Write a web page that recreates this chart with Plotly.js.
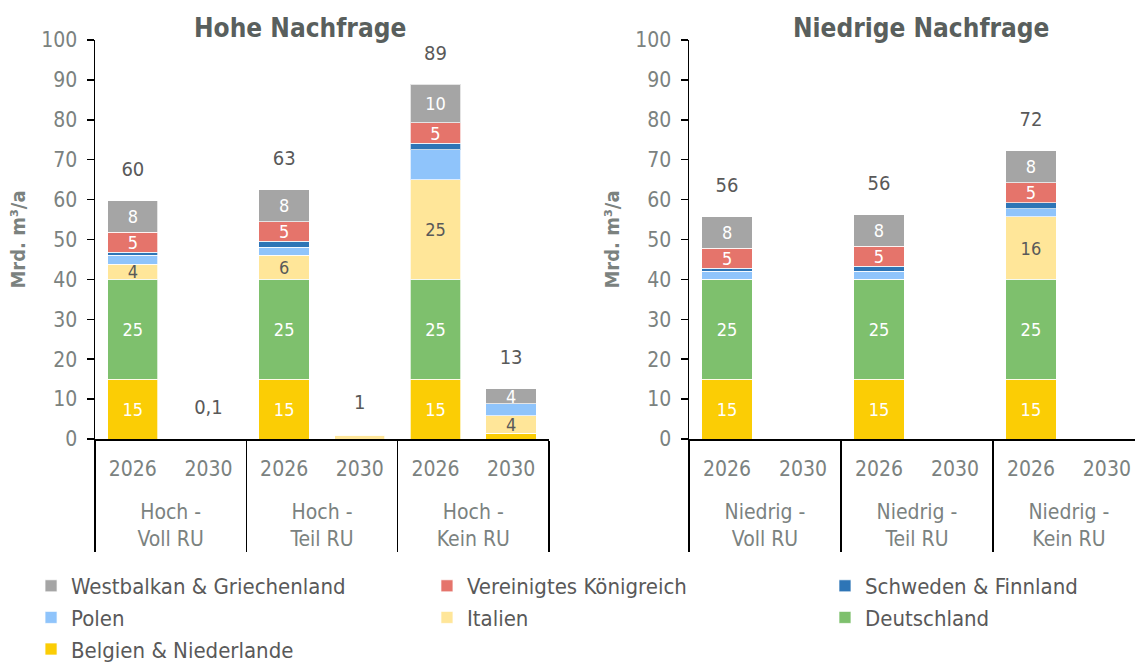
<!DOCTYPE html>
<html>
<head>
<meta charset="utf-8">
<script src="https://cdn.plot.ly/plotly-3.0.1.min.js"></script>
<style>html,body{margin:0;padding:0;background:#fff;}#chart{width:1135px;height:666px;}</style>
</head>
<body>
<div id="chart"></div>
<script>
// ---- Data ----
const groupsLeft = ["<br>Hoch -<br>Voll RU","<br>Hoch -<br>Voll RU","<br>Hoch -<br>Teil RU","<br>Hoch -<br>Teil RU","<br>Hoch -<br>Kein RU","<br>Hoch -<br>Kein RU"];
const groupsRight = ["<br>Niedrig -<br>Voll RU","<br>Niedrig -<br>Voll RU","<br>Niedrig -<br>Teil RU","<br>Niedrig -<br>Teil RU","<br>Niedrig -<br>Kein RU","<br>Niedrig -<br>Kein RU"];
const years = ["2026","2030","2026","2030","2026","2030"];

const seriesNames = ["Belgien & Niederlande","Deutschland","Italien","Polen","Schweden & Finnland","Vereinigtes Königreich","Westbalkan & Griechenland"];
const seriesColors = ["#fbcd05","#7ec06d","#ffe699","#8fc4fb","#2e75b6","#e5746b","#a5a5a5"];

// Left: Hohe Nachfrage
const belgienL    = [15, 0,    15,  0,   15,  1.4];
const deutschL    = [25, 0,    25,  0,   25,  0];
const italienL    = [3.8, 0.05, 6,  0.9, 25,  4.4];
const polenL      = [2.2, 0.05, 2,  0.3, 7.5, 3];
const schwedenL   = [0.8, 0,   1.5, 0,   1.6, 0];
const ukL         = [5,  0,    4.9, 0,   5.1, 0];
const westbalkanL = [7.95, 0,  8.1, 0,   9.7, 3.8];

// Right: Niedrige Nachfrage
const belgienR    = [15, 0, 15, 0, 15, 0];
const deutschR    = [25, 0, 25, 0, 25, 0];
const italienR    = [0,  0, 0,  0, 15.7, 0];
const polenR      = [2.1, 0, 2.1, 0, 2, 0];
const schwedenR   = [0.7, 0, 1.25, 0, 1.55, 0];
const ukR         = [5,  0, 5,  0, 5, 0];
const westbalkanR = [7.9, 0, 7.9, 0, 8, 0];

const seriesLeft  = [belgienL, deutschL, italienL, polenL, schwedenL, ukL, westbalkanL];
const seriesRight = [belgienR, deutschR, italienR, polenR, schwedenR, ukR, westbalkanR];
const labeled     = [true, true, true, false, false, true, true];
const labelColors = ["#ffffff","#ffffff","#595959","#ffffff","#ffffff","#ffffff","#ffffff"];
// legend column + rank
const legendOf   = ["legend","legend3","legend2","legend","legend3","legend2","legend"];
const legendRank = [3, 2, 2, 2, 1, 1, 1];

const FONT = "DejaVu Sans Condensed, DejaVu Sans, sans-serif";

function segLabels(arr, on){ return arr.map(v => (on && v >= 3.5) ? String(Math.round(v)) : ""); }
function totals(list){ return list[0].map((_, i) => list.reduce((s, a) => s + a[i], 0)); }
function totalText(t){ if (t <= 0) return ""; if (t < 0.5) return t.toFixed(1).replace(".", ","); return String(Math.round(t)); }

const traces = [];
seriesNames.forEach((name, k) => {
  [[seriesLeft, groupsLeft, "x", "y", true], [seriesRight, groupsRight, "x2", "y2", false]].forEach(([ser, grp, xa, ya, sl]) => {
    traces.push({
      type: "bar", name: name, x: [grp, years], y: ser[k],
      xaxis: xa, yaxis: ya,
      marker: {color: seriesColors[k], line: {color: "rgba(255,255,255,0.7)", width: 1}},
      text: segLabels(ser[k], labeled[k]), textposition: "inside", insidetextanchor: "middle",
      textangle: 0, constraintext: "none",
      insidetextfont: {family: FONT, size: 18, color: labelColors[k]},
      legend: legendOf[k], legendrank: legendRank[k], legendgroup: name,
      showlegend: sl, hoverinfo: "skip"
    });
  });
});

[[seriesLeft, groupsLeft, "x", "y"], [seriesRight, groupsRight, "x2", "y2"]].forEach(([ser, grp, xa, ya]) => {
  const tot = totals(ser);
  traces.push({
    type: "scatter", mode: "markers+text", x: [grp, years], y: tot,
    xaxis: xa, yaxis: ya,
    marker: {size: 30, opacity: 0},
    text: tot.map(totalText), textposition: "top center",
    textfont: {family: FONT, size: 20, color: "#595959"},
    showlegend: false, hoverinfo: "skip", cliponaxis: false
  });
});

const tickColor = "#7b827f";
const xBase = {
  type: "multicategory", showline: true, linecolor: "#000", linewidth: 1.5,
  ticks: "", showdividers: true, dividercolor: "#000", dividerwidth: 1.5,
  tickfont: {family: FONT, size: 21, color: tickColor}, ticklabelstandoff: 10,
  showgrid: false, zeroline: false, fixedrange: true
};
const yBase = {
  range: [0, 100], dtick: 10, showline: true, linecolor: "#000", linewidth: 1.5,
  ticks: "outside", ticklen: 7, tickwidth: 1.5, tickcolor: "#000", ticklabelstandoff: 5,
  tickfont: {family: FONT, size: 21, color: tickColor}, showgrid: false, zeroline: false, fixedrange: true,
  title: {text: "Mrd. m³/a", font: {family: FONT, size: 20, color: tickColor, weight: "bold"}, standoff: 10}
};
const LEG_TOP = 565;
const legBase = {
  orientation: "v", traceorder: "normal", yanchor: "top", xanchor: "left",
  xref: "paper", yref: "container", y: 1 - LEG_TOP / 666,
  font: {family: FONT, size: 22, color: "#595959"}, bgcolor: "rgba(0,0,0,0)",
  tracegroupgap: 0, itemclick: false, itemdoubleclick: false
};

const layout = {
  width: 1135, height: 666,
  margin: {l: 95, r: 0, t: 40, b: 227},
  paper_bgcolor: "#fff", plot_bgcolor: "#fff",
  barmode: "stack", bargap: 0.335,
  showlegend: true,
  font: {family: FONT},
  xaxis: Object.assign({}, xBase, {domain: [0, 0.4365], anchor: "y", range: [-0.5, 5.5]}),
  yaxis: Object.assign({}, yBase, {anchor: "x"}),
  xaxis2: Object.assign({}, xBase, {domain: [0.5712, 1], anchor: "y2", range: [-0.5, 5.37]}),
  yaxis2: Object.assign({}, yBase, {anchor: "x2"}),
  uniformtext: {mode: "show", minsize: 18},
  legend:  Object.assign({}, legBase, {x: -0.0615}),
  legend2: Object.assign({}, legBase, {x: 0.3192}),
  legend3: Object.assign({}, legBase, {x: 0.7019}),
  annotations: [
    {text: "<b>Hohe Nachfrage</b>", xref: "paper", yref: "paper", x: 0.197, y: 1.03, xanchor: "center", yanchor: "middle", showarrow: false, font: {family: FONT, size: 26, color: "#595f5d"}},
    {text: "<b>Niedrige Nachfrage</b>", xref: "paper", yref: "paper", x: 0.794, y: 1.03, xanchor: "center", yanchor: "middle", showarrow: false, font: {family: FONT, size: 26, color: "#595f5d"}}
  ]
};

Plotly.newPlot("chart", traces, layout, {displayModeBar: false, staticPlot: true});
</script>
</body>
</html>
